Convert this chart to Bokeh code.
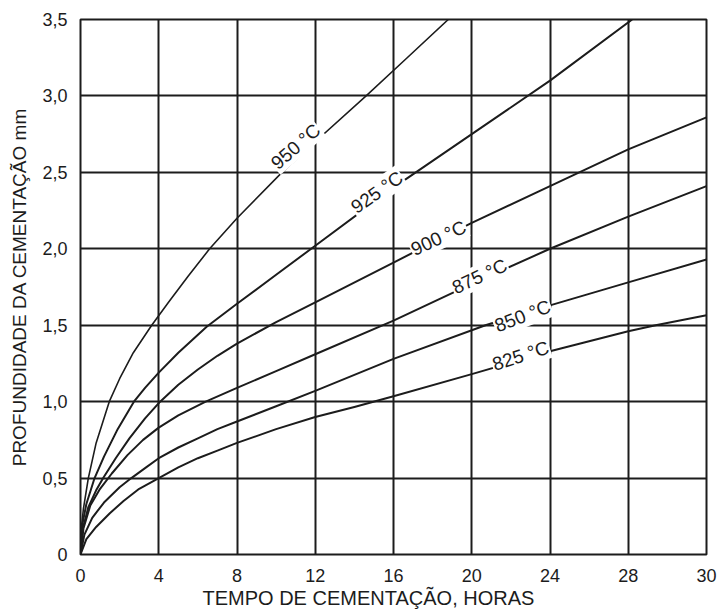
import math
from bokeh.plotting import figure
from bokeh.models import FixedTicker, Label, Range1d, Title
from bokeh.embed import file_html
from bokeh.resources import INLINE

# ---- data (x = position on the time axis, y = depth mm)
x_ticks = [0, 4, 8, 12, 16, 20, 24, 28, 32]
x_tick_labels = ["0", "4", "8", "12", "16", "20", "24", "28", "30"]
y_ticks = [0, 0.5, 1.0, 1.5, 2.0, 2.5, 3.0, 3.5]
y_tick_labels = ["0", "0,5", "1,0", "1,5", "2,0", "2,5", "3,0", "3,5"]

t950 = [0, 0.05, 0.15, 0.4, 0.8, 1.47, 2.0, 2.7, 3.64, 4.5, 5.5, 6.6, 8, 10.3, 12, 14.6, 16.7, 18.8]
d950 = [0, 0.18, 0.3, 0.5, 0.73, 1.0, 1.15, 1.32, 1.5, 1.65, 1.82, 2.0, 2.2, 2.5, 2.7, 3.0, 3.25, 3.5]

t925 = [0, 0.1, 0.3, 0.72, 1.2, 1.9, 2.73, 3.3, 4, 5, 6.45, 8, 10, 12, 16, 20, 24, 28.2]
d925 = [0, 0.2, 0.33, 0.5, 0.64, 0.82, 1.0, 1.09, 1.19, 1.32, 1.49, 1.64, 1.83, 2.02, 2.4, 2.75, 3.1, 3.5]

t900 = [0, 0.1, 0.4, 0.8, 1.16, 1.8, 2.5, 3.3, 4.07, 5, 6, 7, 8, 10, 12, 16, 20, 24, 28, 32]
d900 = [0, 0.16, 0.31, 0.42, 0.5, 0.63, 0.76, 0.89, 1.0, 1.11, 1.21, 1.3, 1.38, 1.52, 1.65, 1.91, 2.17, 2.41, 2.65, 2.86]

t875 = [0, 0.15, 0.5, 1.0, 1.6, 2.4, 3.2, 4, 5, 6.4, 8, 10, 12, 16, 20, 24, 28, 32]
d875 = [0, 0.17, 0.32, 0.43, 0.53, 0.65, 0.75, 0.83, 0.91, 1.0, 1.09, 1.2, 1.31, 1.53, 1.77, 2.0, 2.21, 2.41]

t850 = [0, 0.2, 0.6, 1.2, 2, 2.6, 3.3, 4, 5, 6, 7, 8, 10, 12, 16, 20.7, 24, 28, 32]
d850 = [0, 0.13, 0.24, 0.34, 0.44, 0.5, 0.565, 0.63, 0.7, 0.76, 0.82, 0.87, 0.97, 1.07, 1.28, 1.5, 1.63, 1.78, 1.93]

t825 = [0, 0.3, 0.8, 1.5, 2.2, 3, 4, 5, 6, 7, 8, 10, 12, 14, 16, 20, 24, 28, 29.4, 32]
d825 = [0, 0.1, 0.18, 0.27, 0.35, 0.43, 0.5, 0.57, 0.63, 0.68, 0.73, 0.82, 0.9, 0.965, 1.035, 1.18, 1.33, 1.46, 1.5, 1.565]

labels = ["950 °C", "925 °C", "900 °C", "875 °C", "850 °C", "825 °C"]
label_x = [11.0, 15.15, 18.3, 20.4, 22.6, 22.5]
label_y = [2.67, 2.37, 2.07, 1.82, 1.56, 1.30]
label_angle_deg = [41, 35, 25, 25, 21, 18]

FONT = "Liberation Sans"
INK = "#1c1c1c"

p = figure(frame_width=626, frame_height=535,
           x_range=Range1d(0, 32), y_range=Range1d(0, 3.5),
           output_backend="svg", toolbar_location=None,
           min_border_left=80, min_border_top=19, min_border_right=12,
           min_border_bottom=56)

p.background_fill_color = "white"
p.border_fill_color = "white"
p.outline_line_color = INK
p.outline_line_width = 2

p.xaxis.ticker = FixedTicker(ticks=x_ticks)
p.yaxis.ticker = FixedTicker(ticks=y_ticks)
p.xaxis.major_label_overrides = dict(zip(x_ticks, x_tick_labels))
p.yaxis.major_label_overrides = dict(zip(y_ticks, y_tick_labels))
p.xgrid.ticker = FixedTicker(ticks=x_ticks)
p.ygrid.ticker = FixedTicker(ticks=y_ticks)
for g in (p.xgrid, p.ygrid):
    g.grid_line_color = INK
    g.grid_line_width = 2
    g.grid_line_alpha = 1

for ax in (p.xaxis, p.yaxis):
    ax.axis_line_color = None
    ax.major_tick_line_color = None
    ax.minor_tick_line_color = None
    ax.major_label_text_font = FONT
    ax.major_label_text_font_size = "18px"
    ax.major_label_text_color = INK
    ax.axis_label_text_font = FONT
    ax.axis_label_text_font_size = "19px"
    ax.axis_label_text_font_style = "normal"
    ax.axis_label_text_color = INK

p.yaxis.axis_label = "PROFUNDIDADE DA CEMENTAÇÃO mm"
p.xaxis.major_label_standoff = 8
p.yaxis.major_label_standoff = 7
p.yaxis.axis_label_standoff = 9

p.add_layout(Title(text="TEMPO DE CEMENTAÇÃO, HORAS", align="left", offset=122,
                   standoff=0, text_font=FONT, text_font_size="20px",
                   text_font_style="normal", text_color=INK), "below")

series = [(t950, d950, 1.6), (t925, d925, 2), (t900, d900, 2),
          (t875, d875, 2), (t850, d850, 2), (t825, d825, 2)]
for t, d, w in series:
    p.line(t, d, line_color=INK, line_width=w, line_join="round")

for txt, lx, ly, ang in zip(labels, label_x, label_y, label_angle_deg):
    p.add_layout(Label(x=lx, y=ly, text=txt, angle=math.radians(ang),
                       text_align="center", text_baseline="middle",
                       text_font=FONT, text_font_size="19px", text_color=INK,
                       background_fill_color="white", padding=1))

open("out.html", "w").write(file_html(p, INLINE))
